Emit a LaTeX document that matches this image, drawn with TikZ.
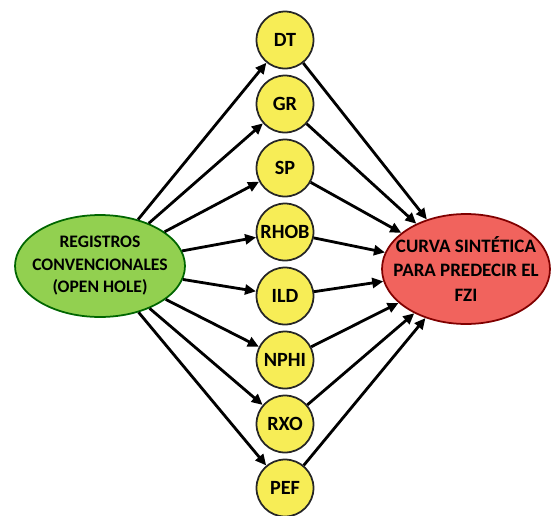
\documentclass[tikz,border=0pt]{standalone}
\usepackage{fontspec}
\setmainfont{Carlito}
\usetikzlibrary{shapes.geometric,arrows.meta}
\definecolor{logyellow}{RGB}{247,237,86}
\definecolor{reggreen}{RGB}{146,208,80}
\definecolor{fzired}{RGB}{241,99,93}
\begin{document}
\begin{tikzpicture}[x=0.02cm,y=-0.02cm,
   logc/.style={circle, draw=black!85, line width=1pt, fill=logyellow, minimum size=1.14cm, inner sep=0pt, font=\bfseries\fontsize{11.5}{13}\selectfont},
   bigell/.style={ellipse, line width=1pt, inner xsep=-0.4cm, inner ysep=0pt, align=center},
   arr/.style={-{Triangle[length=0.22cm,width=0.2cm]}, line width=1.6pt}]
   \useasboundingbox (0,0) rectangle (552,515);

   \node[bigell, draw=black!60!green, fill=reggreen, minimum width=3.4cm, minimum height=2.04cm, font=\bfseries\fontsize{10}{12.8}\selectfont] (REG) at (100,266) {REGISTROS\\CONVENCIONALES\\(OPEN HOLE)};
   \node[bigell, draw=black!50!red, fill=fzired, minimum width=3.36cm, minimum height=2.2cm, font=\bfseries\fontsize{10.8}{14}\selectfont] (FZI) at (466,269) {CURVA SINTÉTICA\\PARA PREDECIR EL\\FZI};

   \foreach \n/\y in {DT/40,GR/104,SP/168,RHOB/232,ILD/296,NPHI/360,RXO/424,PEF/488}
   \node[logc] (\n) at (285,\y) {\n};

   \foreach \n in {DT,GR,SP,RHOB,ILD,NPHI,RXO,PEF}{
   \draw[arr] (REG) -- (\n);
   \draw[arr] (\n) -- (FZI);
   }

\end{tikzpicture}
\end{document}
